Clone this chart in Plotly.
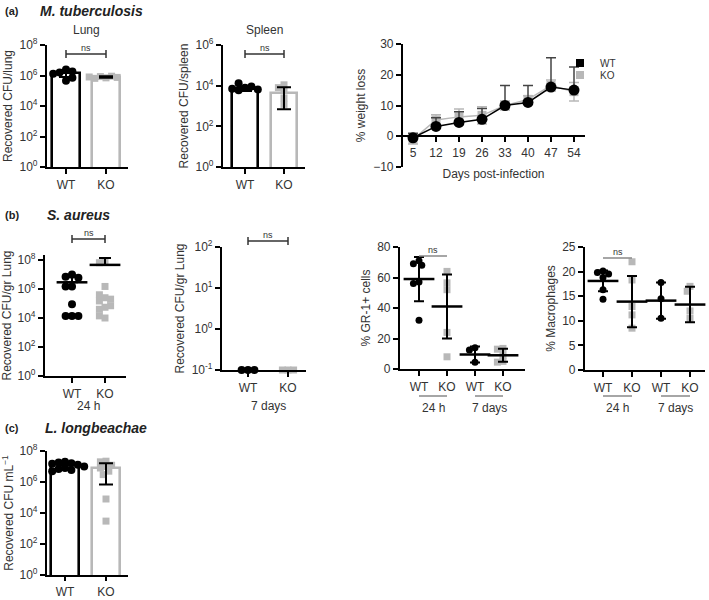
import numpy as np
import plotly.graph_objects as go

# ---------------- data ----------------
groups = ["WT", "KO"]
lung_wt = [2.5e6, 1.6e6, 1.8e6, 1.3e6, 4.5e5, 7.0e5]
lung_ko = [7.0e5, 8.5e5, 9.0e5, 6.5e5, 7.5e5, 8.0e5]
lung_mean = [1.5e6, 8.0e5]
lung_sd = [7.0e5, 9.0e4]

spleen_wt = [8.0e3, 1.3e4, 6.0e3, 9.0e3, 7.0e3, 6.5e3]
spleen_ko = [1.1e4, 8.0e3, 6.0e3, 2.5e3, 1.2e3]
spleen_mean = [7.0e3, 4.5e3]
spleen_sd = [1.5e3, 3.8e3]

days = [5, 12, 19, 26, 33, 40, 47, 54]
wl_wt = [-0.5, 3.2, 4.5, 5.5, 10.0, 11.0, 16.0, 15.0]
wl_wt_err = [1.5, 2.8, 3.5, 3.5, 6.5, 5.5, 9.5, 7.5]
wl_ko = [-1.0, 5.3, 6.3, 6.8, 10.0, 12.0, 16.5, 14.5]
wl_ko_err = [1.5, 1.7, 2.6, 2.8, 1.5, 1.2, 1.8, 3.0]

sa24_wt = [1.0e7, 7.0e6, 6.0e6, 1.5e6, 1.5e6, 9.0e4, 1.4e4, 1.4e4, 1.4e4]
sa24_ko = [8.0e7, 6.5e7, 1.5e6, 2.5e5, 4.0e5, 1.5e5, 2.0e5, 5.5e4, 7.0e4, 4.0e4, 1.0e4, 1.4e4]
sa24_mean = [2.9e6, 4.6e7]
sa24_up = [3.6e6, 9.4e7]

sa7_wt = [0.1, 0.1, 0.1]
sa7_ko = [0.1, 0.1, 0.1]

cell_groups = ["WT", "KO", "WT", "KO"]
gr1_points = [[71, 69, 68, 57, 56, 32], [64, 56.5, 52, 24, 8], [14, 12.5, 4.5], [13.5, 13, 9, 5, 4.5]]
gr1_mean = [59, 41, 9.5, 9]
gr1_sd = [14.5, 21, 5.2, 4.2]

mac_points = [[20.1, 19.8, 19.5, 18.8, 16.3, 14.4], [22, 18.3, 12.9, 11.2, 8.5], [17.8, 14.5, 10.5], [17, 16, 12, 10.5]]
mac_mean = [18.1, 13.9, 14.1, 13.3]
mac_sd = [2.1, 5.2, 3.7, 3.6]

ll_wt = [2.0e7, 1.8e7, 1.6e7, 1.5e7, 1.3e7, 1.2e7, 1.0e7, 9.0e6, 8.0e6, 7.0e6, 6.0e6, 5.0e6]
ll_ko = [2.2e7, 2.0e7, 1.2e7, 1.0e7, 8.0e6, 5.0e6, 3.0e6, 8.0e4, 3.0e3]
ll_mean = [1.4e7, 7.5e6]
ll_up = [2.0e6, 8.5e6]
ll_down = [2.0e6, 6.8e6]

# ---------------- layout helpers ----------------
W, H = 709, 600
FONT = "Liberation Sans, Arial, sans-serif"
TXT = "#333"
GRAY = "#b8b8b8"


def fx(px):
    return px / W


def fy(py):
    return 1 - py / H


# panel geometry in pixels: axis x0, x1, first category px, category step, y top, y bottom, y range, log?
G = {
    1: dict(x0=47, x1=128, c0=66, st=40, yt=45, yb=167, yr=[0, 8], log=True),
    2: dict(x0=223, x1=305, c0=245, st=39, yt=45, yb=167, yr=[0, 6], log=True),
    4: dict(x0=45, x1=126, c0=72, st=33, yt=255, yb=376, yr=[0, 8 + 5 / 14.5], log=True),
    5: dict(x0=222, x1=306, c0=248, st=40, yt=247, yb=370, yr=[-1, 2], log=True),
    6: dict(x0=400, x1=525, c0=419, st=28, yt=247, yb=369, yr=[0, 80], log=False),
    7: dict(x0=585, x1=705, c0=603, st=29, yt=247, yb=370, yr=[0, 25], log=False),
    8: dict(x0=47, x1=128, c0=65, st=41, yt=451, yb=575, yr=[0, 8], log=True),
}


def xr(g):
    return [(g["x0"] - g["c0"]) / g["st"], (g["x1"] - g["c0"]) / g["st"]]


def ypix(g, vals):
    lo, hi = g["yr"]
    scale = (g["yb"] - g["yt"]) / (hi - lo)
    v = np.log10(np.array(vals, float)) if g["log"] else np.array(vals, float)
    return (v - lo) * scale


def swarm(ypx, d, tight=0.75):
    cands = sorted([k * d * 0.4 for k in range(-14, 15)], key=abs)
    placed, offs = [], []
    for y in ypx:
        chosen = cands[-1]
        for c in cands:
            if all((c - px) ** 2 + (y - py) ** 2 >= (d * tight) ** 2 for px, py in placed):
                chosen = c
                break
        placed.append((chosen, y))
        offs.append(chosen)
    return np.array(offs)


fig = go.Figure()


def axn(i, kind):
    return kind if i == 1 else f"{kind}{i}"


def add_points(i, cat, vals, color, symbol, size):
    g = G[i]
    offs = swarm(ypix(g, vals), size) / g["st"]
    fig.add_trace(go.Scatter(
        x=cat + offs, y=vals, mode="markers", showlegend=False, cliponaxis=False,
        marker=dict(symbol=symbol, color=color, size=size, line=dict(width=0)),
        xaxis=axn(i, "x"), yaxis=axn(i, "y")))


def add_bars(i, means, colors, width):
    fig.add_trace(go.Bar(
        x=list(range(len(means))), y=means, width=width, showlegend=False,
        marker=dict(color="white", line=dict(color=colors, width=2.6)),
        xaxis=axn(i, "x"), yaxis=axn(i, "y")))


def add_err(i, means, up, down, cap=6, mean_line=False):
    mk = dict(size=1, color="rgba(0,0,0,0)")
    if mean_line:
        mk = dict(symbol="line-ew", size=22, line=dict(width=2.5, color="black"))
    fig.add_trace(go.Scatter(
        x=list(range(len(means))), y=means, mode="markers", showlegend=False, cliponaxis=False,
        marker=mk,
        error_y=dict(type="data", symmetric=False, array=up, arrayminus=down,
                     color="black", thickness=2, width=cap),
        xaxis=axn(i, "x"), yaxis=axn(i, "y")))


# Panel 1: lung
add_bars(1, lung_mean, ["black", GRAY], 0.7)
add_points(1, 0, lung_wt, "black", "circle", 8)
add_points(1, 1, lung_ko, GRAY, "square", 7)
add_err(1, lung_mean, lung_sd, lung_sd, cap=7)

# Panel 2: spleen
add_bars(2, spleen_mean, ["black", GRAY], 0.66)
add_points(2, 0, spleen_wt, "black", "circle", 8)
add_points(2, 1, spleen_ko, GRAY, "square", 7)
add_err(2, spleen_mean, spleen_sd, spleen_sd, cap=7)

# Panel 3: weight loss
fig.add_trace(go.Scatter(
    x=days, y=wl_ko, mode="lines+markers", showlegend=False, cliponaxis=False,
    line=dict(color=GRAY, width=1.5), marker=dict(symbol="square", size=9, color=GRAY),
    error_y=dict(type="data", array=wl_ko_err, color=GRAY, thickness=1.5, width=5),
    xaxis="x3", yaxis="y3"))
fig.add_trace(go.Scatter(
    x=days, y=wl_wt, mode="lines+markers", showlegend=False, cliponaxis=False,
    line=dict(color="black", width=1.5), marker=dict(symbol="circle", size=11, color="black"),
    error_y=dict(type="data", symmetric=False, array=wl_wt_err, arrayminus=[0] * len(days),
                 color="#444", thickness=1.5, width=5),
    xaxis="x3", yaxis="y3"))
fig.add_trace(go.Scatter(x=[None], y=[None], mode="markers", name="WT", legend="legend",
                         marker=dict(symbol="square", size=8, color="black"), xaxis="x3", yaxis="y3"))
fig.add_trace(go.Scatter(x=[None], y=[None], mode="markers", name="KO", legend="legend2",
                         marker=dict(symbol="square", size=8, color=GRAY), xaxis="x3", yaxis="y3"))

# Panel 4: S. aureus 24 h
add_points(4, 0, sa24_wt, "black", "circle", 8)
add_points(4, 1, sa24_ko, GRAY, "square", 7)
add_err(4, sa24_mean, sa24_up, [0, 0], cap=6, mean_line=True)

# Panel 5: S. aureus 7 days
add_points(5, 0, sa7_wt, "black", "circle", 8)
add_points(5, 1, sa7_ko, GRAY, "square", 7)

# Panel 6: GR-1
for k, pts in enumerate(gr1_points):
    add_points(6, k, pts, "black" if k % 2 == 0 else GRAY, "circle" if k % 2 == 0 else "square", 7)
add_err(6, gr1_mean, gr1_sd, gr1_sd, cap=5, mean_line=True)

# Panel 7: macrophages
for k, pts in enumerate(mac_points):
    add_points(7, k, pts, "black" if k % 2 == 0 else GRAY, "circle" if k % 2 == 0 else "square", 7)
add_err(7, mac_mean, mac_sd, mac_sd, cap=5, mean_line=True)

# Panel 8: L. longbeachae
add_bars(8, ll_mean, ["black", GRAY], 0.66)
add_points(8, 0, ll_wt, "black", "circle", 8)
add_points(8, 1, ll_ko, GRAY, "square", 7)
add_err(8, ll_mean, ll_up, ll_down, cap=7)

# ---------------- axes ----------------
def base_axis(**kw):
    d = dict(showline=True, linecolor="black", linewidth=2.2, ticks="outside", ticklen=5,
             tickwidth=2, tickcolor="black", showgrid=False, zeroline=False, fixedrange=True,
             automargin=False, tickfont=dict(size=12, color=TXT, family=FONT))
    d.update(kw)
    return d


ytitles = {1: "Recovered CFU/lung", 2: "Recovered CFU/spleen", 4: "Recovered CFU/gr Lung",
           5: "Recovered CFU/gr Lung", 6: "% GR-1+ cells", 7: "% Macrophages",
           8: "Recovered CFU mL<sup>−1</sup>"}

lay = {}
for i, g in G.items():
    labels = groups if i not in (6, 7) else cell_groups
    xa = base_axis(domain=[fx(g["x0"]), fx(g["x1"])], range=xr(g), anchor=axn(i, "y"),
                   tickmode="array", tickvals=list(range(len(labels))), ticktext=labels,
                   ticklen=4 if i == 8 else 5)
    if g["log"]:
        exps = list(range(int(g["yr"][0]), int(np.floor(g["yr"][1])) + 1, 1 if i == 5 else 2))
        ya = base_axis(type="log", range=g["yr"], tickmode="array",
                       tickvals=[10.0 ** e for e in exps],
                       ticktext=[f"10<sup>{e}</sup>" for e in exps])
    else:
        step = 20 if i == 6 else 5
        ya = base_axis(range=g["yr"], tickmode="array",
                       tickvals=list(range(0, int(g["yr"][1]) + 1, step)))
    ya.update(domain=[fy(g["yb"]), fy(g["yt"])], anchor=axn(i, "x"),
              title=dict(text=ytitles[i], font=dict(size=12, color=TXT, family=FONT), standoff=4))
    lay["xaxis" if i == 1 else f"xaxis{i}"] = xa
    lay["yaxis" if i == 1 else f"yaxis{i}"] = ya

# weight-loss axes
wx0, wx1, d5, d54 = 402, 585, 413, 574
ppd = (d54 - d5) / (days[-1] - days[0])
w_yt, w_yb, w_yr = 44, 167, [-10, 30]
zero_px = w_yt + (w_yr[1] - 0) / (w_yr[1] - w_yr[0]) * (w_yb - w_yt)
lay["xaxis3"] = base_axis(domain=[fx(wx0), fx(wx1)],
                          range=[days[0] - (d5 - wx0) / ppd, days[-1] + (wx1 - d54) / ppd],
                          anchor="free", position=fy(zero_px), tickmode="array", tickvals=days,
                          title=dict(text="Days post-infection", font=dict(size=12, color=TXT, family=FONT),
                                     standoff=10))
lay["yaxis3"] = base_axis(domain=[fy(w_yb), fy(w_yt)], range=w_yr, anchor="free", position=fx(wx0),
                          tickmode="array", tickvals=[-10, 0, 10, 20, 30],
                          title=dict(text="% weight loss", font=dict(size=12, color=TXT, family=FONT),
                                     standoff=4))

# ---------------- annotations & shapes ----------------
ann = []
shapes = []


def text(x, y, s, size=12, xanchor="center", xref="paper", bold=False, italic=False):
    if italic:
        s = f"<i>{s}</i>"
    if bold:
        s = f"<b>{s}</b>"
    ann.append(dict(x=x if xref != "paper" else fx(x), y=fy(y), xref=xref, yref="paper", text=s,
                    showarrow=False, xanchor=xanchor, yanchor="middle",
                    font=dict(size=size, color="#222" if bold else TXT, family=FONT)))


text(3, 11, "(a)", 11, "left", bold=True)
text(38, 11, "M. tuberculosis", 14, "left", bold=True, italic=True)
text(3, 215, "(b)", 11, "left", bold=True)
text(45, 215, "S. aureus", 14, "left", bold=True, italic=True)
text(3, 428, "(c)", 11, "left", bold=True)
text(43, 428, "L. longbeachae", 14, "left", bold=True, italic=True)
text(0.5, 30, "Lung", 12, xref="x")
text(0.5, 30, "Spleen", 12, xref="x2")
text(0.5, 406, "24 h", 12, xref="x4")
text(0.5, 406, "7 days", 12, xref="x5")


def bracket(i, y, ends=True, color="#333"):
    xr_ = axn(i, "x")
    shapes.append(dict(type="line", xref=xr_, yref="paper", x0=0, x1=1, y0=fy(y), y1=fy(y),
                       line=dict(color=color, width=1.5)))
    if ends:
        for xx in (0, 1):
            shapes.append(dict(type="line", xref=xr_, yref="paper", x0=xx, x1=xx,
                               y0=fy(y - 4), y1=fy(y + 4), line=dict(color=color, width=1.5)))
    text(0.5, y - 6, "ns", 9, xref=xr_)


bracket(1, 54)
bracket(2, 54)
bracket(4, 239)
bracket(5, 241)
bracket(6, 256, ends=False, color="#888")
bracket(7, 258, ends=False, color="#888")

for i in (6, 7):
    for a, b, lab in ((0, 1, "24 h"), (2, 3, "7 days")):
        shapes.append(dict(type="line", xref=axn(i, "x"), yref="paper", x0=a, x1=b,
                           y0=fy(396), y1=fy(396), line=dict(color="#888", width=1.5)))
        text((a + b) / 2, 408, lab, 12, xref=axn(i, "x"))

leg = dict(xanchor="left", yanchor="middle", font=dict(size=10, color=TXT),
           bgcolor="rgba(0,0,0,0)", itemwidth=30)
fig.update_layout(
    width=W, height=H, margin=dict(l=0, r=0, t=0, b=0, autoexpand=False),
    paper_bgcolor="white", plot_bgcolor="white",
    font=dict(family=FONT, color=TXT, size=12),
    annotations=ann, shapes=shapes, bargap=0,
    legend=dict(x=fx(560), y=fy(63), **leg),
    legend2=dict(x=fx(560), y=fy(75), **leg),
    **lay,
)

fig.write_html("out.html", config={"displayModeBar": False},
               post_script="document.body.style.margin='0px';")
